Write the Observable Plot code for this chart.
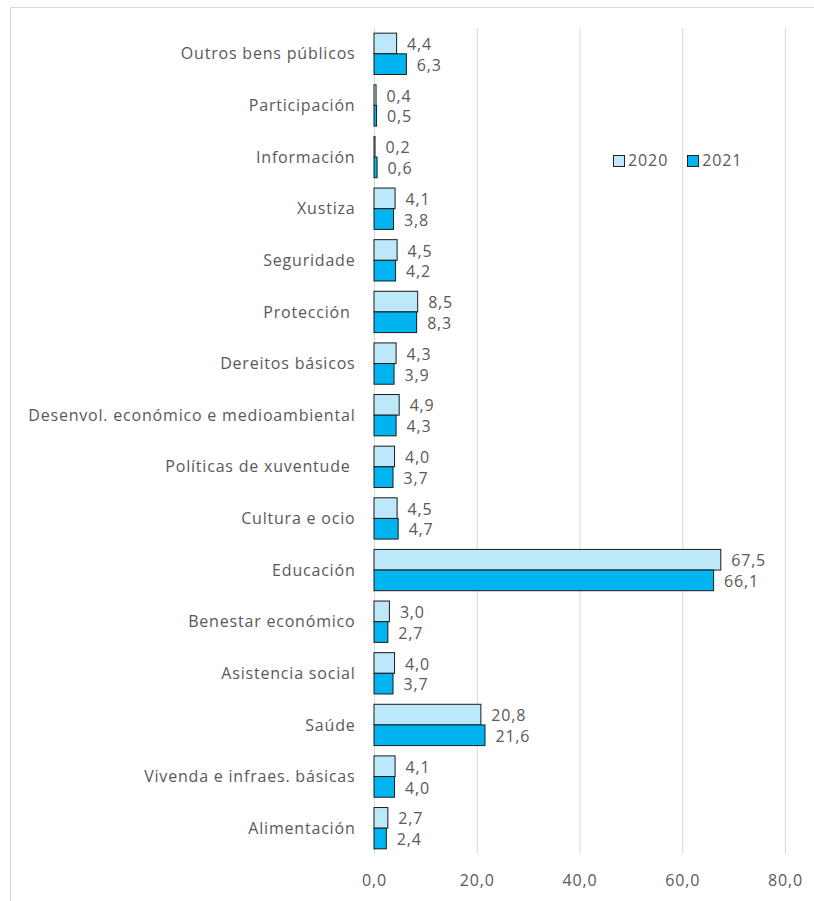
<!DOCTYPE html>
<html><head><meta charset="utf-8">
<script src="https://cdn.jsdelivr.net/npm/d3@7"></script>
<script src="https://cdn.jsdelivr.net/npm/@observablehq/plot@0.6"></script>
<style>
body{margin:0;background:#fff;font-family:"Open Sans",sans-serif;}
#wrap{position:relative;width:814px;height:901px;}
#frame{position:absolute;left:10px;top:7px;right:-5px;bottom:-5px;border:1px solid #d9d9d9;}
#legend{position:absolute;left:613px;top:149px;font-size:16px;letter-spacing:0.9px;color:#595959;display:flex;gap:19px;align-items:center;}
#legend span.sw{display:inline-block;width:10px;height:10px;border:1px solid #222;margin-right:3px;vertical-align:-1px;}
#chart{position:absolute;left:0;top:0;}
#chart svg text{letter-spacing:0.8px;}
</style></head>
<body><div id="wrap"><div id="frame"></div><div id="chart"></div>
<div id="legend"></div></div>
<script>
const categories = ["Outros bens públicos","Participación","Información","Xustiza","Seguridade","Protección ","Dereitos básicos","Desenvol. económico e medioambiental","Políticas de xuventude ","Cultura e ocio","Educación","Benestar económico","Asistencia social","Saúde","Vivenda e infraes. básicas","Alimentación"];
const years = ["2020","2021"];
const values2020 = [4.4,0.4,0.2,4.1,4.5,8.5,4.3,4.9,4.0,4.5,67.5,3.0,4.0,20.8,4.1,2.7];
const values2021 = [6.3,0.5,0.6,3.8,4.2,8.3,3.9,4.3,3.7,4.7,66.1,2.7,3.7,21.6,4.0,2.4];
const xTicks = [0,20,40,60,80];
const colors = {"2020":"#bde8fa","2021":"#00b5ef"};

const data = [];
categories.forEach((c,i)=>{
  data.push({cat:c, year:"2020", v:values2020[i]});
  data.push({cat:c, year:"2021", v:values2021[i]});
});

const W=814,H=901,mt=28,mb=47,ml=374,mr=29,pad=0.2;
const step=(H-mt-mb)/categories.length;
const half=step*(1-pad)/2;
const fmt = d3.format(".1f");
const comma = v => fmt(v).replace(".",",");

const d20 = data.filter(d=>d.year==="2020"), d21 = data.filter(d=>d.year==="2021");

const chart = Plot.plot({
  width:W,height:H,marginTop:mt,marginBottom:mb,marginLeft:ml,marginRight:mr,
  style:{fontFamily:"Open Sans, sans-serif",fontSize:"16px",color:"#404040",background:"transparent"},
  x:{domain:[0,80],ticks:xTicks,tickFormat:comma,tickSize:0,tickPadding:20,label:null},
  y:{domain:categories,paddingInner:pad,paddingOuter:pad/2,round:false,tickSize:0,tickPadding:19,label:null},
  marks:[
    Plot.gridX(xTicks,{stroke:"#d9d9d9",strokeOpacity:1}),
    Plot.barX(d20,{x:"v",y:"cat",fill:colors["2020"],stroke:"#1a1a1a",strokeWidth:1,insetBottom:half}),
    Plot.barX(d21,{x:"v",y:"cat",fill:colors["2021"],stroke:"#1a1a1a",strokeWidth:1,insetTop:half}),
    Plot.text(d20,{x:"v",y:"cat",text:d=>comma(d.v),dx:10,dy:-half/2+1,textAnchor:"start",fill:"#595959",fontSize:16}),
    Plot.text(d21,{x:"v",y:"cat",text:d=>comma(d.v),dx:10,dy:half/2+1,textAnchor:"start",fill:"#595959",fontSize:16})
  ]
});
chart.querySelectorAll('[aria-label="x-axis tick label"] text, [aria-label="y-axis tick label"] text').forEach(t=>t.setAttribute("fill","#595959"));
document.getElementById("chart").appendChild(chart);
document.getElementById("legend").innerHTML = years.map(y=>`<div><span class="sw" style="background:${colors[y]}"></span>${y}</div>`).join("");
</script></body></html>
